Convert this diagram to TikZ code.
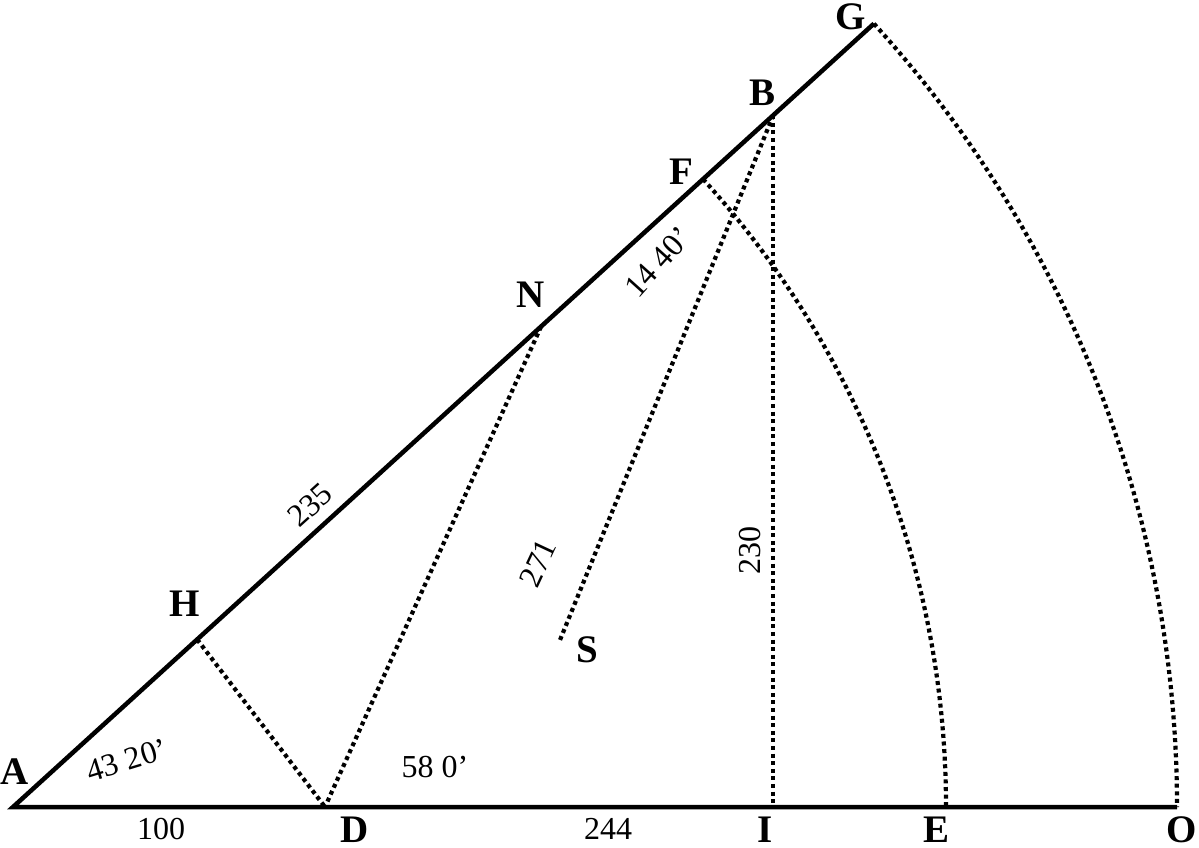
\documentclass[tikz,border=0pt]{standalone}
\usepackage{fontspec}
\setmainfont{Liberation Serif}
\usetikzlibrary{calc}
\begin{document}
\begin{tikzpicture}[x=1pt,y=-1pt,
  mainline/.style={line width=4.5pt},
  dotline/.style={line width=4.2pt, dash pattern=on 4pt off 3.6pt},
  lbl/.style={font=\fontsize{39}{39}\selectfont\bfseries, inner sep=0pt},
  num/.style={font=\fontsize{32}{32}\selectfont, inner sep=0pt}]
\useasboundingbox (0,0) rectangle (1199,847);
% points
\coordinate (A) at (13,807);
\coordinate (G) at ($(A)+(-42.3:1164)$);
\coordinate (B) at ($(A)+(-42.3:1028)$);
\coordinate (F) at ($(A)+(-42.3:933)$);
\coordinate (N) at ($(A)+(-42.3:714)$);
\coordinate (H) at ($(A)+(-42.3:249)$);
\coordinate (O) at ($(A)+(1164,0)$);
\coordinate (E) at ($(A)+(933,0)$);
\coordinate (D) at (325,807);
\coordinate (I) at (B |- A);
\coordinate (S) at (560,640);
% dotted construction lines
\draw[dotline] (H) -- (D);
\draw[dotline] (N) -- (D);
\draw[dotline] (B) -- (S);
\draw[dotline] (B) -- (I);
\draw[dotline] (F) arc[start angle=-42.3, end angle=0, radius=933];
\draw[dotline] (G) arc[start angle=-42.3, end angle=0, radius=1164];
% solid lines
\draw[mainline] (G) -- (A) -- (O);
% letter labels
\node[lbl] (lA) at (15,772) {A};
\node[lbl] (lH) at (185,604) {H};
\node[lbl] (lN) at (531,295) {N};
\node[lbl] (lF) at (681,172) {F};
\node[lbl] (lB) at (762,93) {B};
\node[lbl] (lG) at (851,17) {G};
\node[lbl] (lS) at (587,650) {S};
\node[lbl] (lD) at (355,830) {D};
\node[lbl] (lI) at (765,830) {I};
\node[lbl] (lE) at (936,830) {E};
\node[lbl] (lO) at (1182,830) {O};
% numbers
\node[num] (n100) at (161,829) {100};
\node[num] (n244) at (608,829) {244};
\node[num] (n58) at (435,767) {58 0’};
\node[num,rotate=17] (n43) at (127,760) {43 20’};
\node[num,rotate=42] (n235) at (310,505) {235};
\node[num,rotate=48] (n14) at (658,262) {14 40’};
\node[num,rotate=65] (n271) at (538,563) {271};
\node[num,rotate=90] (n230) at (750,550) {230};
\end{tikzpicture}
\end{document}
